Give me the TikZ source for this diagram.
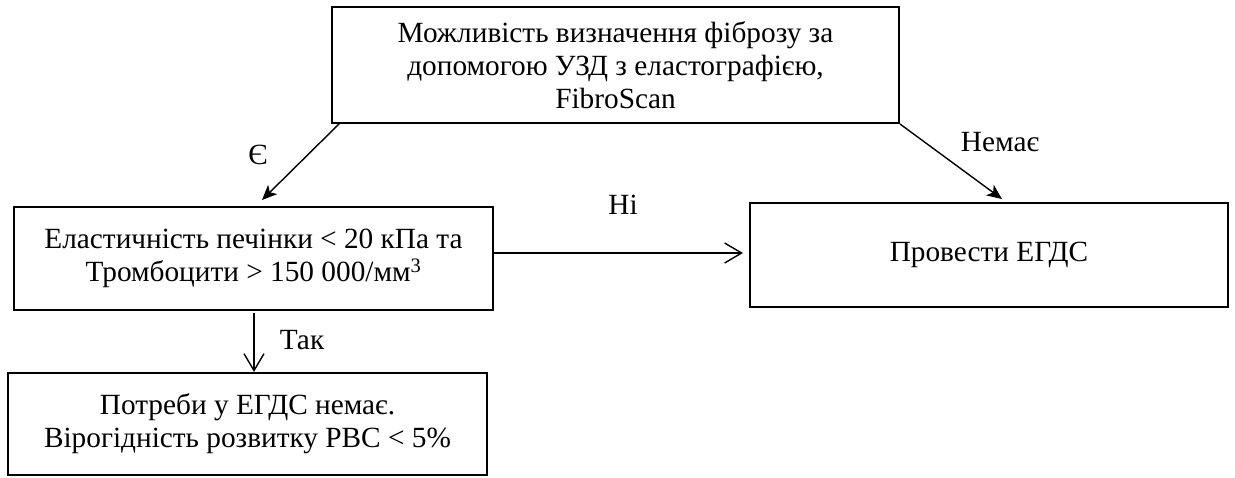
\documentclass[tikz,border=0pt]{standalone}
\usepackage{fontspec}
\setmainfont{Liberation Serif}
\usetikzlibrary{arrows.meta}
\begin{document}
\begin{tikzpicture}[x=1pt,y=-1pt,
 box/.style={draw,line width=2pt,inner sep=0pt,align=center,font=\fontsize{29.3}{33}\selectfont},
 lbl/.style={font=\fontsize{29.3}{33}\selectfont,inner sep=0pt},
 filledarrow/.style={line width=1.4pt,-{Stealth[length=15pt,width=13pt,inset=4pt]}},
 openarrow/.style={line width=1.4pt,-{Straight Barb[length=17pt,width=20pt,line width=1.4pt]}}]
\useasboundingbox (0,0) rectangle (1235,477);
\node[box,minimum width=567pt,minimum height=116pt] (top) at (615.5,65)
  {Можливість визначення фіброзу за\\допомогою УЗД з еластографією,\\FibroScan};
\node[box,minimum width=479pt,minimum height=103pt] (left) at (253.5,258.5)
  {Еластичність печінки < 20 кПа та\\Тромбоцити > 150 000/мм\textsuperscript{3}};
\node[box,minimum width=478pt,minimum height=104pt] (right) at (989,255)
  {Провести ЕГДС};
\node[box,minimum width=479pt,minimum height=102pt] (bottom) at (247.5,424)
  {Потреби у ЕГДС немає.\\Вірогідність розвитку РВС < 5\%};
\coordinate (eStart) at (340,123);
\coordinate (eTip) at (262,200);
\coordinate (nTip) at (1002,199);
\coordinate (niStart) at (493,253);
\coordinate (niTip) at (743,253);
\coordinate (takStart) at (254,313);
\coordinate (takTip) at (254,372);
\draw[filledarrow] (eStart) -- (eTip);
\draw[filledarrow] (top.south east) -- (nTip);
\draw[openarrow] (niStart) -- (niTip);
\draw[openarrow] (takStart) -- (takTip);
\node[lbl] (lE) at (258,155) {Є};
\node[lbl] (lN) at (1000,142) {Немає};
\node[lbl] (lNi) at (623,205) {Ні};
\node[lbl] (lT) at (302,340) {Так};
\end{tikzpicture}
\end{document}
